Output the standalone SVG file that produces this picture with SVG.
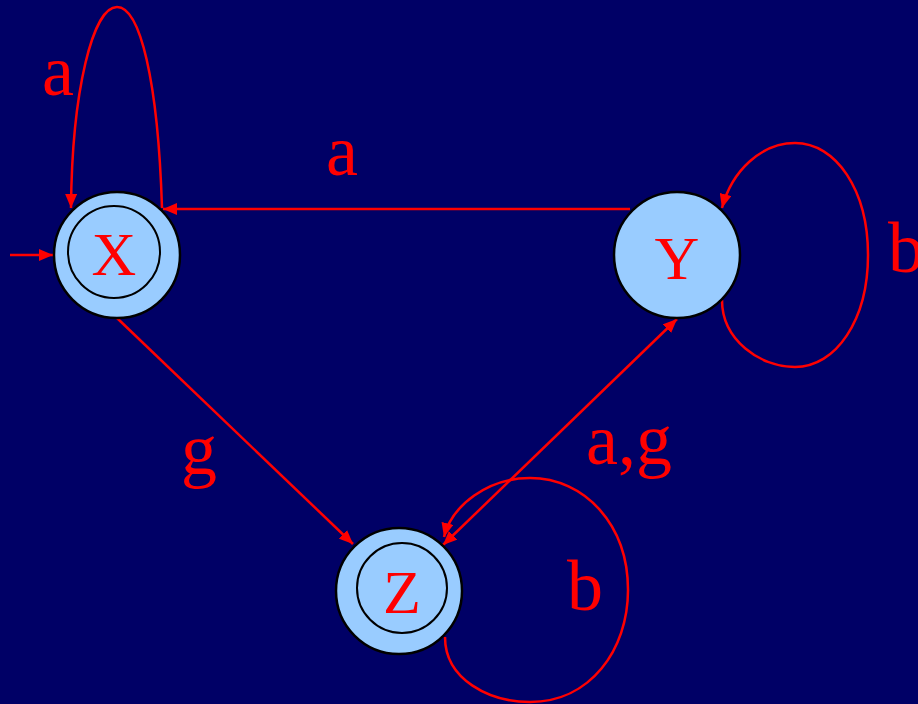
<svg xmlns="http://www.w3.org/2000/svg" width="918" height="704" viewBox="0 0 918 704">
<defs>
<marker id="ah" viewBox="0 0 14 12" refX="14" refY="6" markerWidth="14" markerHeight="12" markerUnits="userSpaceOnUse" orient="auto-start-reverse">
<path d="M0,0 L14,6 L0,12 Z" fill="#ff0000"/>
</marker>
<style>
.node{fill:#99ccff;stroke:#000;stroke-width:2.5}
.inner{fill:none;stroke:#000;stroke-width:2}
.edge{fill:none;stroke:#ff0000;stroke-width:2.5}
.nl{font-family:"Liberation Serif",serif;font-size:62px;fill:#ff0000;text-anchor:middle}
.el{font-family:"Liberation Serif",serif;font-size:72px;fill:#ff0000}
</style>
</defs>
<rect width="918" height="704" fill="#000066"/>
<g id="connectors">
<path class="edge" d="M10,255 L53,255" marker-end="url(#ah)"/>
<path class="edge" d="M162,208 C158,80 140,7 117,7 C93,7 72,90 71,208" marker-end="url(#ah)"/>
<path class="edge" d="M630,209 L163,209" marker-end="url(#ah)"/>
<path class="edge" d="M722,300 C722,340 760,367 795,367 C836,367 868,320 868,255 C868,190 836,143 795,143 C762,143 732,170 722,208" marker-end="url(#ah)"/>
<path class="edge" d="M117,318 L353,544" marker-end="url(#ah)"/>
<path class="edge" d="M443,545 L677,319" marker-start="url(#ah)" marker-end="url(#ah)"/>
<path class="edge" d="M445,637 C445,680 490,702 530,702 C590,702 628,650 628,590 C628,525 585,478 530,478 C488,478 452,505 444,537" marker-end="url(#ah)"/>
</g>
<g id="labels">
<text class="el" x="42" y="95">a</text>
<text class="el" x="326" y="175">a</text>
<text class="el" x="888" y="272">b</text>
<text class="el" x="181" y="474">g</text>
<text class="el" x="586" y="464">a,g</text>
<text class="el" x="567" y="610">b</text>
</g>
<g id="node-X">
<circle class="node" cx="117" cy="255" r="63"/>
<circle class="inner" cx="114" cy="252" r="46"/>
<text class="nl" x="114" y="275">X</text>
</g>
<g id="node-Y">
<circle class="node" cx="677" cy="255" r="63"/>
<text class="nl" x="677" y="279">Y</text>
</g>
<g id="node-Z">
<circle class="node" cx="399" cy="591" r="63"/>
<circle class="inner" cx="402" cy="588" r="45"/>
<text class="nl" x="402" y="613">Z</text>
</g>
</svg>
